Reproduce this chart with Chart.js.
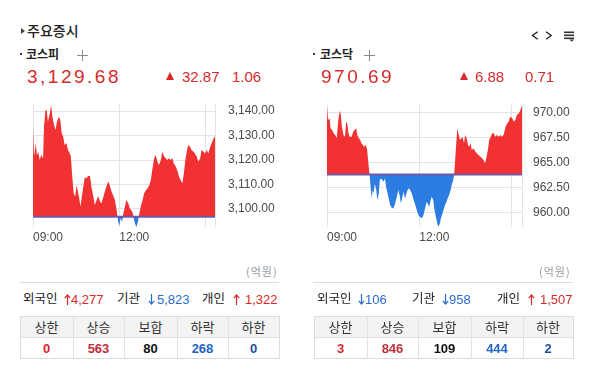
<!DOCTYPE html>
<html><head><meta charset="utf-8">
<script src="https://cdn.jsdelivr.net/npm/chart.js@4.4.1/dist/chart.umd.min.js"></script>
<style>
html,body{margin:0;padding:0;background:#fff}
body{width:594px;height:377px;position:relative;overflow:hidden;font-family:'Noto Sans CJK KR','Noto Sans',sans-serif;color:#222}
.a{position:absolute;white-space:nowrap}
.n{font-family:'Liberation Sans',Arial,sans-serif}
canvas{position:absolute;top:95px}
</style></head><body>
<canvas id="c0" width="297" height="150" style="left:0px"></canvas>
<canvas id="c1" width="299" height="150" style="left:295px"></canvas>
<script>
// ---------- data ----------
const INDEX_NAMES = ['코스피', '코스닥'];
const INDEX_CLOSE = [3129.68, 970.69];
const INDEX_CHANGE = [32.87, 6.88];
const INDEX_CHANGE_PCT = [1.06, 0.71];

const TIME_TICKS = [0, 180, 360, 380];          // minutes after 09:00
const TIME_LABELS = ['09:00', '12:00', '', ''];

const KOSPI_Y_TICKS = [3100, 3110, 3120, 3130, 3140];
const KOSDAQ_Y_TICKS = [960, 962.5, 965, 967.5, 970];

const KOSPI_TIME = [0,2,6,8,11,14,17,21,23,26,29,31,35,38,40,43,47,50,54,57,60,63,66,70,73,77,79,82,85,88,91,93,96,99,101,105,108,112,115,119,122,126,129,133,136,140,143,147,150,153,157,160,164,167,171,174,178,180,183,186,188,192,195,199,202,206,209,211,214,216,219,222,225,229,232,236,239,243,246,249,253,256,260,263,267,270,274,277,280,284,287,291,294,298,301,305,308,312,315,318,321,324,328,331,335,338,342,345,349,352,356,359,363,366,370,373,377,380];
const KOSPI_VALUE = [3133.6,3121.4,3126.8,3122.0,3123.4,3120.0,3122.0,3120.7,3133.6,3140.4,3140.1,3135.6,3139.0,3142.4,3138.4,3135.0,3132.2,3135.6,3137.7,3136.3,3130.9,3129.5,3126.1,3126.8,3124.1,3122.7,3121.4,3113.2,3106.4,3105.0,3109.8,3107.8,3105.0,3101.0,3103.7,3109.1,3112.9,3112.5,3113.5,3113.5,3109.1,3105.0,3101.6,3103.7,3105.3,3103.0,3102.3,3105.0,3107.1,3109.1,3111.2,3109.8,3107.1,3105.7,3103.7,3100.3,3094.8,3093.1,3096.2,3094.8,3097.6,3101.0,3103.7,3102.3,3100.3,3099.3,3098.0,3095.5,3093.5,3092.7,3094.8,3098.2,3101.0,3103.7,3106.4,3107.8,3108.4,3109.8,3111.8,3115.9,3120.7,3122.0,3119.3,3118.0,3120.0,3123.4,3121.4,3120.7,3120.0,3120.7,3120.0,3120.7,3118.6,3117.3,3115.9,3113.2,3111.8,3110.5,3114.6,3120.0,3123.4,3126.1,3125.4,3124.1,3123.4,3122.7,3121.4,3119.3,3120.7,3124.1,3123.4,3122.7,3124.1,3122.7,3125.4,3126.8,3128.8,3129.68];

const KOSDAQ_TIME = [0,2,5,7,10,13,16,19,22,25,27,29,32,35,37,39,42,44,48,51,54,57,59,62,65,67,70,72,75,78,80,83,85,87,89,91,93,96,98,101,103,105,108,110,113,115,118,121,123,126,129,132,136,139,142,144,147,149,152,155,157,160,162,165,168,172,175,178,181,185,188,191,194,196,199,202,204,207,209,212,215,217,220,222,225,228,230,233,235,238,241,243,246,248,251,254,256,259,262,264,267,269,272,275,277,280,282,286,289,292,295,299,302,305,308,311,314,316,319,322,325,328,331,335,338,341,344,348,351,354,357,361,364,367,370,374,377,380];
const KOSDAQ_VALUE = [970.56,969.24,969.40,968.41,968.24,967.91,967.74,967.41,969.24,970.17,969.73,968.57,967.74,967.57,968.90,969.07,967.91,967.57,967.57,968.07,968.24,968.41,967.74,967.41,967.24,966.91,966.74,966.58,966.74,966.41,965.25,963.75,962.59,961.43,962.26,961.93,962.92,962.26,961.26,961.93,963.26,963.42,963.26,963.09,963.42,962.59,961.93,961.26,960.76,960.53,960.43,960.76,961.59,962.26,961.59,960.93,961.59,962.09,961.43,961.93,962.26,962.43,962.26,961.93,961.43,960.76,960.27,959.77,959.60,959.44,959.77,960.43,961.10,960.93,960.60,961.26,961.59,961.26,960.43,959.60,958.94,958.60,958.94,959.44,959.93,960.43,960.76,961.10,961.43,961.76,962.26,962.76,963.26,963.92,966.25,968.41,967.91,967.24,967.41,967.57,966.91,967.74,967.41,966.74,966.58,966.91,966.25,966.41,966.08,965.91,965.75,965.58,965.42,965.25,964.92,965.58,966.41,967.24,967.57,967.91,967.91,967.57,967.74,967.57,967.74,967.57,967.74,968.57,968.90,969.07,969.57,969.40,969.07,969.24,969.73,969.90,970.23,970.69];

const INVESTOR_LABELS = ['외국인', '기관', '개인'];
const KOSPI_INVESTOR = [4277, -5823, 1322];
const KOSDAQ_INVESTOR = [-106, -958, 1507];

const BREADTH_HEADERS = ['상한', '상승', '보합', '하락', '하한'];
const KOSPI_BREADTH = [0, 563, 80, 268, 0];
const KOSDAQ_BREADTH = [3, 846, 109, 444, 2];

// ---------- styling / layout ----------
const RED = '#d62a2a', BLUE = '#2a6ccf';
const FILL_RED = '#f23232', FILL_BLUE = '#2c7de2', BASE_LINE = '#6f58a6';
const BREADTH_COLORS = ['#d3262d', '#c0303a', '#111111', '#2166c6', '#1d4f9e'];

const PANEL_LAYOUT = [
  {dot:20, name:26, plus:82, big:27, tri:166, chg:182, pct:232, unit:246, sepL:20, sepR:279,
   inv:[[23,64,71],[117,148,157],[202,233,245]], cols:[20,73,124,177,228,279],
   padLeft:33, padTop:9, yWidth:82, yPad:13, yMin:3092.65, yMax:3142.86},
  {dot:313, name:320, plus:369, big:321, tri:460, chg:475, pct:525, unit:539, sepL:313, sepR:573,
   inv:[[317,358,365],[412,442,449],[497,528,540]], cols:[314,367,418,471,523,573],
   padLeft:32, padTop:10, yWidth:72, yPad:11, yMin:958.58, yMax:970.73}
];

function el(html, style, cls) {
  const d = document.createElement('div');
  d.className = 'a' + (cls ? ' ' + cls : '');
  d.style.cssText = style;
  d.innerHTML = html;
  document.body.appendChild(d);
  return d;
}
const f2 = v => v.toLocaleString('en-US', {minimumFractionDigits: 2, maximumFractionDigits: 2});

// header
el('', 'left:21px;top:28px;width:0;height:0;border-left:4px solid #444;border-top:3px solid transparent;border-bottom:3px solid transparent');
el('주요증시', 'left:27px;top:23px;font-size:14px;line-height:14px;font-weight:500;color:#222');
el('<svg width="22" height="12"><polyline points="6.7,1.7 1.5,5.5 6.7,9.3" fill="none" stroke="#222" stroke-width="1.4"/><polyline points="15,1.7 20.2,5.5 15,9.3" fill="none" stroke="#222" stroke-width="1.4"/></svg>', 'left:531px;top:30px;line-height:0');
el('<svg width="11" height="11"><rect x="0" y="0.5" width="10" height="1.6" fill="#333"/><rect x="0" y="3.5" width="10" height="1.6" fill="#333"/><rect x="0" y="6.5" width="10" height="1.6" fill="#333"/><polygon points="5.5,8.6 10,8.6 7.75,10.8" fill="#333"/></svg>', 'left:564px;top:31px;line-height:0');

function arrowSvg(up, color) {
  return up
    ? `<svg width="7" height="11"><line x1="3.5" y1="1" x2="3.5" y2="11" stroke="${color}" stroke-width="1.2"/><polyline points="0.8,4.2 3.5,1 6.2,4.2" fill="none" stroke="${color}" stroke-width="1.2"/></svg>`
    : `<svg width="7" height="11"><line x1="3.5" y1="0" x2="3.5" y2="10" stroke="${color}" stroke-width="1.2"/><polyline points="0.8,6.8 3.5,10 6.2,6.8" fill="none" stroke="${color}" stroke-width="1.2"/></svg>`;
}

const INVESTORS = [KOSPI_INVESTOR, KOSDAQ_INVESTOR];
const BREADTHS = [KOSPI_BREADTH, KOSDAQ_BREADTH];

PANEL_LAYOUT.forEach((P, i) => {
  el('', `left:${P.dot}px;top:53px;width:2px;height:2px;background:#333`);
  el(INDEX_NAMES[i], `left:${P.name}px;top:47.5px;font-size:12px;line-height:12px;font-weight:700;color:#222`);
  el('<svg width="11" height="11"><line x1="0" y1="5.5" x2="11" y2="5.5" stroke="#8a8a8a" stroke-width="1"/><line x1="5.5" y1="0" x2="5.5" y2="11" stroke="#8a8a8a" stroke-width="1"/></svg>', `left:${P.plus - 5.5}px;top:49.5px;line-height:0`);
  el(f2(INDEX_CLOSE[i]), `left:${P.big}px;top:67px;font-size:19px;line-height:19px;letter-spacing:2.5px;color:${RED}`, 'n');
  el('', `left:${P.tri}px;top:71.5px;width:0;height:0;border-left:4.5px solid transparent;border-right:4.5px solid transparent;border-bottom:8px solid ${RED}`);
  el(INDEX_CHANGE[i].toFixed(2), `left:${P.chg}px;top:68.7px;font-size:15px;line-height:15px;color:${RED}`, 'n');
  el(INDEX_CHANGE_PCT[i].toFixed(2), `left:${P.pct}px;top:68.7px;font-size:15px;line-height:15px;color:${RED}`, 'n');
  el('(억원)', `left:${P.unit}px;top:265.7px;font-size:11px;line-height:11px;letter-spacing:1px;color:#999`);
  el('', `left:${P.sepL}px;top:282px;width:${P.sepR - P.sepL}px;height:1px;background:#ddd`);

  INVESTOR_LABELS.forEach((lab, j) => {
    const v = INVESTORS[i][j], up = v >= 0, col = up ? RED : BLUE;
    const [lx, ax, nx] = P.inv[j];
    el(lab, `left:${lx}px;top:291.9px;font-size:12.5px;line-height:12.5px;color:#222`);
    el(arrowSvg(up, col), `left:${ax}px;top:294px;line-height:0`);
    el(Math.abs(v).toLocaleString('en-US'), `left:${nx}px;top:292.7px;font-size:13px;line-height:13px;color:${col}`, 'n');
  });

  const c = P.cols, L = c[0], R = c[5];
  el('', `left:${L}px;top:316px;width:${R - L + 1}px;height:43px;box-sizing:border-box;border:1px solid #dcdcdc`);
  el('', `left:${L + 1}px;top:317px;width:${R - L - 1}px;height:20px;background:#f3f3f3`);
  el('', `left:${L}px;top:337px;width:${R - L}px;height:1px;background:#e2e2e2`);
  for (let k = 1; k < 5; k++) el('', `left:${c[k]}px;top:316px;width:1px;height:43px;background:#e2e2e2`);
  BREADTH_HEADERS.forEach((h, j) => {
    el(h, `left:${c[j]}px;width:${c[j + 1] - c[j]}px;text-align:center;top:319.6px;font-size:13px;line-height:13px;color:#333`);
    el(String(BREADTHS[i][j]), `left:${c[j]}px;width:${c[j + 1] - c[j]}px;text-align:center;top:341.7px;font-size:13px;line-height:13px;font-weight:700;color:${BREADTH_COLORS[j]}`, 'n');
  });
});

// ---------- charts ----------
const SERIES_T = [KOSPI_TIME, KOSDAQ_TIME];
const SERIES_V = [KOSPI_VALUE, KOSDAQ_VALUE];
const Y_TICKS = [KOSPI_Y_TICKS, KOSDAQ_Y_TICKS];
const tickFont = {family: "'Liberation Sans', Arial, sans-serif", size: 12};

PANEL_LAYOUT.forEach((P, i) => {
  const prev = +(INDEX_CLOSE[i] - INDEX_CHANGE[i]).toFixed(2);
  const pts = SERIES_T[i].map((t, k) => ({x: t, y: SERIES_V[i][k]}));
  new Chart(document.getElementById('c' + i), {
    type: 'line',
    data: {datasets: [
      {data: [{x: TIME_TICKS[0], y: prev}, {x: TIME_TICKS[TIME_TICKS.length - 1], y: prev}],
       borderColor: BASE_LINE, borderWidth: 2, fill: false, pointRadius: 0},
      {data: pts, borderWidth: 0, borderColor: 'rgba(0,0,0,0)', pointRadius: 0, tension: 0,
       fill: {target: {value: prev}, above: FILL_RED, below: FILL_BLUE}}
    ]},
    options: {
      responsive: false, animation: false, devicePixelRatio: 1,
      layout: {padding: {left: P.padLeft, top: P.padTop, right: 0, bottom: 0}},
      plugins: {legend: {display: false}, tooltip: {enabled: false}},
      scales: {
        x: {type: 'linear', position: 'bottom', min: TIME_TICKS[0], max: TIME_TICKS[TIME_TICKS.length - 1],
            afterBuildTicks: s => { s.ticks = TIME_TICKS.map(v => ({value: v})); },
            afterFit: s => { s.height = 18; s.paddingLeft = 0; s.paddingRight = 0; s.paddingTop = 0; s.paddingBottom = 0; },
            grid: {color: '#e3e3e3', drawTicks: false},
            border: {display: false},
            ticks: {autoSkip: false, maxRotation: 0, align: 'start', padding: 3, color: '#4a4a4a', font: tickFont,
                    callback: v => { const k = TIME_TICKS.indexOf(v); return k >= 0 ? TIME_LABELS[k] : ''; }}},
        y: {type: 'linear', position: 'right', min: P.yMin, max: P.yMax,
            afterBuildTicks: s => { s.ticks = Y_TICKS[i].map(v => ({value: v})); },
            afterFit: s => { s.width = P.yWidth; s.paddingTop = 0; s.paddingBottom = 0; s.paddingLeft = 0; s.paddingRight = 0; },
            grid: {color: '#e3e3e3', drawTicks: false},
            border: {display: false},
            ticks: {padding: P.yPad, color: '#4a4a4a', font: tickFont, callback: v => f2(v)}}
      }
    }
  });
});
</script></body></html>
